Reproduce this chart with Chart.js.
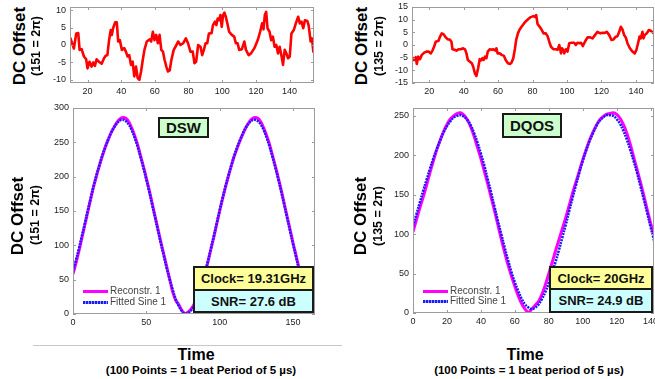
<!DOCTYPE html>
<html>
<head>
<meta charset="utf-8">
<script src="https://cdn.jsdelivr.net/npm/chart.js@4.4.0/dist/chart.umd.min.js"></script>
<style>
  body { margin: 0; width: 655px; height: 379px; background: #fff; position: relative; overflow: hidden;
         font-family: "Liberation Sans", Arial, sans-serif; }
  canvas { position: absolute; }
  .ytitle { position: absolute; width: 100px; text-align: center; font-weight: bold; color: #000;
            transform: rotate(-90deg); transform-origin: center; white-space: nowrap; }
  .big { font-size: 17px; line-height: 20px; }
  .small { font-size: 12.5px; line-height: 12px; }
  .xtitle { position: absolute; width: 260px; text-align: center; font-weight: bold; color: #000; white-space: nowrap; }
  .box { position: absolute; box-sizing: border-box; border: 2px solid #1a1a1a; font-weight: bold; color: #111;
         display: flex; align-items: center; justify-content: center; white-space: nowrap; }
  .leg { position: absolute; font-size: 10px; line-height: 10px; color: #444; white-space: nowrap; }
  .sw { position: absolute; width: 25px; height: 3px; }
  .rec { background: #ff00ff; }
  .fit { background: repeating-linear-gradient(90deg, #1a1aff 0 2px, #9a9aff 2px 3px); }
</style>
</head>
<body>
<canvas id="topLeft" width="280" height="100" style="left:40px;top:0px"></canvas>
<canvas id="topRight" width="277" height="100" style="left:378px;top:0px"></canvas>
<canvas id="dsw" width="280" height="230" style="left:40px;top:100px"></canvas>
<canvas id="dqos" width="277" height="230" style="left:378px;top:100px"></canvas>

<div class="ytitle big" style="left:-30px;top:36px">DC Offset</div>
<div class="ytitle small" style="left:-14px;top:40px">(151 = 2&pi;)</div>
<div class="ytitle big" style="left:-32px;top:206px">DC Offset</div>
<div class="ytitle small" style="left:-15px;top:209px">(151 = 2&pi;)</div>
<div class="ytitle big" style="left:312px;top:36px">DC Offset</div>
<div class="ytitle small" style="left:329px;top:40px">(135 = 2&pi;)</div>
<div class="ytitle big" style="left:311px;top:206px">DC Offset</div>
<div class="ytitle small" style="left:328px;top:210px">(135 = 2&pi;)</div>

<div style="position:absolute;left:33px;top:345px;width:309px;height:1px;background:#c8c8c8"></div>
<div class="xtitle" style="left:66px;top:346px;font-size:16px;line-height:17px">Time</div>
<div class="xtitle" style="left:71px;top:365px;font-size:11.5px;line-height:11px">(100 Points = 1 beat Period of 5 &micro;s)</div>
<div class="xtitle" style="left:395px;top:346px;font-size:16px;line-height:17px">Time</div>
<div class="xtitle" style="left:399px;top:365px;font-size:11.5px;line-height:11px">(100 Points = 1 beat period of 5 &micro;s)</div>

<div class="box" style="left:158px;top:117px;width:51px;height:21px;background:#ccffcc;font-size:15px">DSW</div>
<div class="box" style="left:502px;top:113px;width:60px;height:25px;background:#ccffcc;font-size:15px">DQOS</div>
<div class="box" style="left:193px;top:266px;width:121px;height:25px;background:#ffff99;font-size:13px">Clock= 19.31GHz</div>
<div class="box" style="left:193px;top:289px;width:121px;height:24px;background:#ccffff;font-size:13px">SNR= 27.6 dB</div>
<div class="box" style="left:549px;top:266px;width:104px;height:24px;background:#ffff99;font-size:13px">Clock= 20GHz</div>
<div class="box" style="left:549px;top:288px;width:104px;height:25px;background:#ccffff;font-size:13px">SNR= 24.9 dB</div>

<div class="sw rec" style="left:83px;top:290px"></div>
<div class="leg" style="left:110px;top:286px">Reconstr. 1</div>
<div class="sw fit" style="left:83px;top:301px"></div>
<div class="leg" style="left:110px;top:297px">Fitted Sine 1</div>
<div class="sw rec" style="left:423px;top:290px"></div>
<div class="leg" style="left:450px;top:286px">Reconstr. 1</div>
<div class="sw fit" style="left:423px;top:300px"></div>
<div class="leg" style="left:450px;top:296px">Fitted Sine 1</div>

<script>
// top-left residual (DSW)
const topLeftX = [9.9, 11.9, 13.3, 14.5, 15.3, 16.5, 17.9, 19.2, 20.0, 21.2, 22.4, 23.4, 24.4, 25.4, 26.8, 28.4, 29.8, 30.8, 31.8, 32.8,
  33.8, 34.4, 35.2, 36.4, 37.4, 38.2, 39.2, 40.4, 41.8, 42.8, 43.8, 44.8, 45.8, 46.8, 47.8, 48.8, 49.8, 50.8, 51.8, 52.8,
  53.8, 55.2, 56.8, 57.8, 58.8, 59.8, 60.8, 61.8, 62.8, 63.8, 64.8, 65.8, 66.8, 67.8, 68.8, 69.8, 71.2, 72.8, 73.8, 75.2,
  76.8, 78.4, 79.7, 81.1, 82.5, 83.5, 84.5, 85.7, 87.1, 88.1, 89.1, 90.1, 91.1, 92.1, 93.7, 94.5, 95.7, 96.5, 97.3, 98.1,
  98.9, 99.7, 100.5, 101.3, 102.1, 102.9, 104.1, 105.7, 107.1, 108.1, 109.1, 110.1, 111.7, 113.1, 114.1, 115.7, 117.1, 119.1, 121.1, 122.5,
  123.7, 124.5, 125.3, 126.1, 126.9, 128.1, 129.1, 130.1, 131.1, 132.1, 133.1, 134.1, 135.1, 136.1, 137.1, 138.1, 139.1, 140.1, 141.1, 142.5,
  143.7, 145.1, 146.1, 147.1, 148.1, 149.1, 150.5, 151.3, 152.5, 153.3, 154.1];
const topLeftY = [1.9, -1.0, 3.3, 3.4, -1.4, -1.2, -3.3, -4.1, -6.7, -4.8, -6.2, -5.0, -6.0, -4.1, -4.8, -5.4, -3.8, -3.1, -2.9, 1.4,
  4.3, 2.9, 4.8, 6.5, 6.5, 1.0, 1.4, -1.4, -0.9, -1.9, -3.3, -2.9, -5.7, -4.8, -9.0, -6.2, -9.5, -10, -7.6, -4.3,
  -1.4, 1.0, 1.6, 1.0, 3.8, 1.4, 2.9, 0.5, 2.9, -1.4, -1.9, -4.3, -6.2, -7.6, -7.3, -4.3, -1.4, 0, 1.0, 0,
  0.5, 1.9, 0.5, -1.9, -1.9, -5.2, -4.8, 0, -0.5, -2.9, -1.4, 0.5, 0.5, 3.3, 3.4, 5.7, 6.7, 5.7, 7.6, 7.1,
  8.6, 5.2, 8.6, 9.3, 8.1, 6.5, 3.8, 2.9, 2.4, 0.5, 0.5, -1.4, -1.2, 1.0, -1.4, -2.9, -2.4, -0.9, 1.4, 3.8,
  6.2, 4.5, 8.6, 9.5, 4.8, 3.8, 1.4, 2.4, -0.5, 0, -2.4, -0.5, -2.9, -5.7, -1.4, -2.4, -3.8, -3.3, 3.3, 4.3,
  6.2, 8.1, 6.2, 6.7, 4.8, 7.1, 6.9, 5.7, 1.0, 1.9, -1.9];

// top-right residual (DQOS)
const topRightX = [9.9, 10.7, 11.5, 12.2, 12.8, 13.6, 14.6, 15.7, 17.1, 18.4, 19.6, 20.9, 21.9, 22.8, 23.8, 25.4, 26.1, 27.3, 28.4, 29.6,
  30.8, 31.9, 32.9, 33.5, 34.7, 35.8, 37.0, 38.3, 39.7, 40.8, 41.6, 42.4, 43.5, 44.7, 45.5, 46.6, 47.4, 48.4, 49.3, 50.1,
  50.9, 51.6, 52.4, 53.2, 54.0, 55.1, 56.3, 57.2, 58.2, 59.0, 59.7, 60.9, 62.0, 63.4, 64.4, 65.7, 66.9, 67.8, 68.8, 69.8,
  70.5, 71.5, 72.5, 73.6, 75.0, 76.3, 77.9, 78.6, 80.5, 81.3, 82.1, 82.9, 84.1, 85.2, 86.4, 87.7, 88.7, 89.7, 90.7, 92.2,
  93.6, 94.5, 95.5, 96.5, 97.1, 97.8, 98.4, 99.4, 100.3, 101.3, 102.6, 104.2, 105.1, 106.1, 107.1, 108.1, 109.2, 110.4, 111.9, 113.5,
  114.8, 116.2, 117.7, 119.3, 120.6, 122.0, 123.1, 124.5, 125.8, 127.0, 128.3, 129.3, 130.3, 131.2, 132.2, 133.2, 134.1, 135.1, 136.5, 138.0,
  139.3, 140.3, 141.3, 142.1, 142.8, 143.8, 144.4, 145.1, 146.3, 147.5, 148.6, 150.3];
const topRightY = [-6.5, -5.2, -5.9, -4.8, -7.5, -4.6, -5.6, -3.9, -3.0, -2.6, -2.6, -3.3, -2.2, -0.7, 1.3, 1.7, 3.0, 4.6, 4.2, 3.0,
  2.2, 2.2, 1.3, -1.7, -1.9, -2.2, -1.7, -1.7, -1.3, -1.7, -3.3, -5.9, -6.5, -7.2, -8.5, -11.4, -12.2, -9.2, -5.6, -6.1,
  -5.2, -5.9, -4.6, -5.2, -2.6, -1.7, -1.9, -1.7, -2.2, -1.3, -3.3, -3.3, -3.9, -4.3, -5.9, -7.2, -7.5, -6.9, -5.2, -1.3,
  2.0, 4.6, 6.1, 7.2, 8.5, 9.5, 10.5, 10.9, 11.4, 11.1, 11.8, 8.3, 7.2, 6.1, 4.6, 4.6, 3.5, 1.3, -0.7, -1.7,
  -1.7, -1.9, 0, -3.3, -1.3, -1.9, -3.3, -1.7, -2.6, 0.7, 0.9, 0.9, 0, 0.9, 0.7, 0.9, -0.4, 1.3, 3.0, 3.0,
  2.6, 3.9, 5.2, 4.6, 4.8, 4.8, 5.2, 3.9, 2.0, 2.2, 3.3, 3.5, 5.2, 7.2, 6.1, 3.9, 3.0, 0.7, -1.3, -2.6,
  -3.3, -1.9, 0.9, 3.3, 2.6, 5.2, 2.6, 3.9, 4.6, 5.9, 5.6, 4.6];

// DSW reconstruction vs fitted sine
const dswX = [0, 2, 4, 6, 8, 10, 12, 14, 16, 18, 20, 22, 24, 26, 28, 30, 32, 34, 36, 38, 40, 42, 44, 46, 48, 50,
  52, 54, 56, 58, 60, 62, 64, 66, 68, 70, 72, 74, 76, 78, 80, 82, 84, 86, 88, 90, 92, 94, 96, 98, 100, 102,
  104, 106, 108, 110, 112, 114, 116, 118, 120, 122, 124, 126, 128, 130, 132, 134, 136, 138, 140, 142, 144, 146, 148, 150, 152,
  154, 156, 158, 160, 162, 164];
const dswRecon = [58, 74, 91, 110, 129, 148, 167, 185, 201, 216, 230, 243, 254, 264, 272, 279, 284, 286, 285, 280, 271, 260, 247, 231, 215, 198,
  180, 161, 142, 123, 104, 86, 68, 50, 32, 20, 14, 6, 1, 2, 6, 12, 21, 32, 45, 59, 76, 94, 112, 131, 150, 168,
  185, 201, 216, 230, 242, 253, 263, 272, 279, 284, 286, 285, 280, 271, 260, 247, 231, 215, 198, 180, 161, 142, 123, 104, 86,
  68, 51, 36, 23, 13, 6];
const dswFit = [62, 78, 95, 113, 131, 150, 168, 186, 202, 217, 231, 243, 254, 264, 272, 278, 282, 283, 281, 276, 268, 257, 244, 229, 213, 196,
  178, 159, 140, 121, 102, 84, 66, 50, 35, 22, 12, 5, 1, 1, 4, 10, 19, 31, 45, 60, 77, 95, 113, 132, 151, 169,
  186, 202, 217, 231, 243, 254, 264, 272, 278, 282, 283, 281, 276, 268, 257, 244, 229, 213, 196, 178, 159, 140, 121, 102, 84,
  66, 50, 35, 22, 12, 5];

// DQOS reconstruction vs fitted sine
const dqosX = [0, 2, 4, 6, 8, 10, 12, 14, 16, 18, 20, 22, 24, 26, 28, 30, 32, 34, 36, 38, 40, 42, 44, 46, 48, 50,
  52, 54, 56, 58, 60, 62, 64, 66, 68, 70, 72, 74, 76, 78, 80, 82, 84, 86, 88, 90, 92, 94, 96, 98, 100, 102,
  104, 106, 108, 110, 112, 114, 116, 118, 120, 122, 124, 126, 128, 130, 132, 134, 136, 138, 140, 142];
const dqosRecon = [103, 118, 133, 147, 162, 178, 193, 207, 219, 230, 239, 246, 250, 253, 254, 251, 245, 236, 224, 210, 196, 180, 164, 147, 130, 112,
  94, 77, 61, 47, 34, 22, 12, 5, 1, 5, 10, 15, 24, 36, 50, 64, 79, 93, 107, 121, 136, 152, 166, 180, 194, 207,
  219, 229, 238, 245, 249, 252, 253, 254, 252, 247, 239, 228, 214, 198, 182, 166, 149, 131, 114, 98];
const dqosFit = [110, 125, 140, 155, 169, 183, 196, 208, 219, 229, 237, 243, 248, 250, 251, 249, 245, 238, 228, 216, 202, 187, 170, 153, 135, 117,
  100, 83, 67, 52, 39, 28, 18, 11, 7, 5, 7, 11, 18, 27, 38, 51, 65, 80, 96, 112, 129, 146, 162, 178, 193, 206,
  218, 228, 237, 244, 248, 251, 251, 250, 246, 240, 231, 220, 207, 193, 178, 161, 144, 127, 109, 92];

// tick labels
const topLeftXTicks = [20, 40, 60, 80, 100, 120, 140];
const topLeftYTicks = [-10, -5, 0, 5, 10];
const topRightXTicks = [20, 40, 60, 80, 100, 120, 140];
const topRightYTicks = [-15, -10, -5, 0, 5, 10, 15];
const dswXTicks = [0, 50, 100, 150];
const dswYTicks = [0, 50, 100, 150, 200, 250, 300];
const dqosXTicks = [0, 20, 40, 60, 80, 100, 120, 140];
const dqosYTicks = [0, 50, 100, 150, 200, 250];

function pairs(xs, ys) {
  return xs.map((x, i) => ({ x: x, y: ys[i] }));
}

// matlab style box with inward ticks
const framePlugin = {
  id: 'frame',
  afterDatasetsDraw(chart) {
    const ctx = chart.ctx;
    const a = chart.chartArea;
    const sx = chart.scales.x, sy = chart.scales.y;
    ctx.save();
    ctx.strokeStyle = '#9c9c9c';
    ctx.lineWidth = 1;
    ctx.strokeRect(a.left + 0.5, a.top + 0.5, a.right - a.left - 1, a.bottom - a.top - 1);
    ctx.beginPath();
    sx.ticks.forEach(t => {
      const p = Math.round(sx.getPixelForValue(t.value)) + 0.5;
      ctx.moveTo(p, a.bottom); ctx.lineTo(p, a.bottom - 3);
      ctx.moveTo(p, a.top); ctx.lineTo(p, a.top + 3);
    });
    sy.ticks.forEach(t => {
      const p = Math.round(sy.getPixelForValue(t.value)) + 0.5;
      ctx.moveTo(a.left, p); ctx.lineTo(a.left + 3, p);
      ctx.moveTo(a.right, p); ctx.lineTo(a.right - 3, p);
    });
    ctx.stroke();
    ctx.restore();
  }
};

function makeOptions(xMin, xMax, yMin, yMax, xTicks, yTicks, pad, yW, xH, fs) {
  const tickFont = { family: 'Liberation Sans', size: fs };
  return {
    responsive: false,
    animation: false,
    layout: { padding: pad },
    plugins: { legend: { display: false }, tooltip: { enabled: false } },
    scales: {
      x: {
        type: 'linear', min: xMin, max: xMax,
        grid: { display: false, drawTicks: false },
        border: { display: false },
        ticks: { font: tickFont, color: '#222', padding: 3, maxRotation: 0, autoSkip: false },
        afterBuildTicks: s => { s.ticks = xTicks.map(v => ({ value: v })); },
        afterFit: s => { s.height = xH; s.paddingLeft = 0; s.paddingRight = 0; }
      },
      y: {
        type: 'linear', min: yMin, max: yMax,
        grid: { display: false, drawTicks: false },
        border: { display: false },
        ticks: { font: tickFont, color: '#222', padding: 4, autoSkip: false },
        afterBuildTicks: s => { s.ticks = yTicks.map(v => ({ value: v })); },
        afterFit: s => { s.width = yW; s.paddingTop = 0; s.paddingBottom = 0; }
      }
    }
  };
}

function redLine(xs, ys) {
  return { data: pairs(xs, ys), borderColor: '#ff0000', borderWidth: 2.6, pointRadius: 0,
           tension: 0, borderJoinStyle: 'round', borderCapStyle: 'round' };
}

function sineSets(xs, recon, fit) {
  return [
    { data: pairs(xs, fit), borderColor: '#1a1aff', borderWidth: 2.6, borderDash: [2, 1], pointRadius: 0,
      tension: 0.4, order: 0 },
    { data: pairs(xs, recon), borderColor: '#ff00ff', borderWidth: 3, pointRadius: 0, tension: 0.4, order: 1 }
  ];
}

new Chart(document.getElementById('topLeft'), {
  type: 'line',
  data: { datasets: [redLine(topLeftX, topLeftY)] },
  options: makeOptions(9.6, 154.5, -10.9, 10.9, topLeftXTicks, topLeftYTicks,
                       { top: 7, right: 6, left: 0, bottom: 0 }, 30, 17, 9),
  plugins: [framePlugin]
});

new Chart(document.getElementById('topRight'), {
  type: 'line',
  data: { datasets: [redLine(topRightX, topRightY)] },
  options: makeOptions(10, 150.5, -15, 15, topRightXTicks, topRightYTicks,
                       { top: 7, right: 1, left: 0, bottom: 0 }, 34, 17, 9),
  plugins: [framePlugin]
});

new Chart(document.getElementById('dsw'), {
  type: 'line',
  data: { datasets: sineSets(dswX, dswRecon, dswFit) },
  options: makeOptions(0, 165, 0, 300, dswXTicks, dswYTicks,
                       { top: 8, right: 5, left: 0, bottom: 0 }, 33, 16, 9),
  plugins: [framePlugin]
});

new Chart(document.getElementById('dqos'), {
  type: 'line',
  data: { datasets: sineSets(dqosX, dqosRecon, dqosFit) },
  options: makeOptions(0, 142, 0, 260, dqosXTicks, dqosYTicks,
                       { top: 8, right: 1, left: 0, bottom: 0 }, 35, 17, 9),
  plugins: [framePlugin]
});
</script>
</body>
</html>
